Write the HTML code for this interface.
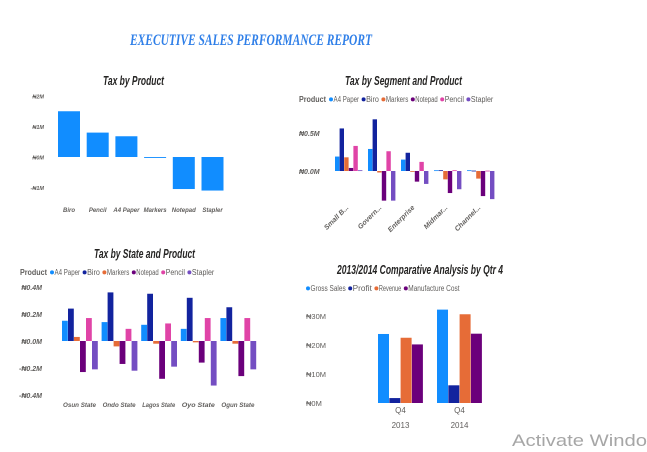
<!DOCTYPE html>
<html><head><meta charset="utf-8"><style>
body{margin:0;background:#fff;}
svg{display:block;font-family:"Liberation Sans",sans-serif;}
.t{font-weight:bold;font-style:italic;font-size:13px;fill:#252423;}
.tk{fill:#605E5C;font-weight:bold;font-style:italic;}
.lg{font-size:8px;fill:#605E5C;}
</style></head><body>
<svg id="s" width="647" height="452">
<text x="130" y="45" textLength="242" lengthAdjust="spacingAndGlyphs" font-family="Liberation Serif" font-weight="bold" font-style="italic" font-size="16" fill="#2F7FE8">EXECUTIVE SALES PERFORMANCE REPORT</text>
<text x="512" y="446" textLength="135" lengthAdjust="spacingAndGlyphs" font-size="17" fill="#A6A6A6">Activate Windo</text>
<g id="c1"><text class="t" x="103" y="85" textLength="61" lengthAdjust="spacingAndGlyphs">Tax by Product</text></g>
<g id="c2"><text class="t" x="345" y="85" textLength="117" lengthAdjust="spacingAndGlyphs">Tax by Segment and Product</text></g>
<g id="c3"><text class="t" x="94" y="258" textLength="101" lengthAdjust="spacingAndGlyphs">Tax by State and Product</text></g>
<g id="c4"><text class="t" x="337" y="274" textLength="166" lengthAdjust="spacingAndGlyphs">2013/2014 Comparative Analysis by Qtr 4</text></g>
</svg>
<script>
const NS="http://www.w3.org/2000/svg";
const productCats=["Biro","Pencil","A4 Paper","Markers","Notepad","Stapler"];
const productTax=[1.5,0.8,0.68,-0.03,-1.05,-1.1];
const p1Ticks=[2,1,0,-1];
const p1TickLabels=["₦2M","₦1M","₦0M","-₦1M"];
const legendProducts=["A4 Paper","Biro","Markers","Notepad","Pencil","Stapler"];
const segments=["Small B...","Govern...","Enterprise","Midmar...","Channel..."];
const segA4=[0.19,0.29,0.15,0.01,0.01];
const segBiro=[0.56,0.68,0.24,0.01,0.005];
const segMarkers=[0.18,-0.02,0.0,-0.11,-0.1];
const segNotepad=[0.04,-0.39,-0.14,-0.29,-0.33];
const segPencil=[0.33,0.26,0.12,0.01,0.005];
const segStapler=[0.01,-0.39,-0.17,-0.24,-0.37];
const segTicks=[0.5,0];
const segTickLabels=["₦0.5M","₦0.0M"];
const states=["Osun State","Ondo State","Lagos State","Oyo State","Ogun State"];
const stA4=[0.15,0.14,0.12,0.09,0.17];
const stBiro=[0.24,0.36,0.35,0.32,0.25];
const stMarkers=[0.03,-0.04,-0.02,-0.01,-0.02];
const stNotepad=[-0.23,-0.17,-0.28,-0.16,-0.26];
const stPencil=[0.17,0.09,0.13,0.17,0.17];
const stStapler=[-0.21,-0.22,-0.19,-0.33,-0.21];
const stTicks=[0.4,0.2,0,-0.2,-0.4];
const stTickLabels=["₦0.4M","₦0.2M","₦0.0M","-₦0.2M","-₦0.4M"];
const years=["2013","2014"];
const cmpSeries=["Gross Sales","Profit","Revenue","Manufacture Cost"];
const grossSales=[23.8,32.2];
const profit=[1.7,6.1];
const revenue=[22.5,30.6];
const mfgCost=[20.2,23.9];
const cmpTicks=[30,20,10,0];
const cmpTickLabels=["₦30M","₦20M","₦10M","₦0M"];
const PC=["#118DFF","#12239E","#E66C37","#6B007B","#E044A7","#744EC2"];
function mk(p,tag,a,txt){const e=document.createElementNS(NS,tag);for(const k in a)e.setAttribute(k,a[k]);if(txt!==undefined)e.textContent=txt;p.appendChild(e);return e;}
function bar(p,x,w,y0,y1,c){return mk(p,"rect",{x:x,y:Math.min(y0,y1),width:w,height:Math.max(Math.abs(y1-y0),0.8),fill:c});}
// chart 1
const c1=document.getElementById("c1");
const y1=v=>157-v*30.5;
p1Ticks.forEach((t,i)=>{const e=mk(c1,"text",{class:"tk",x:44,y:y1(t)+2.5,"text-anchor":"end",style:"font-size:5.5px"},p1TickLabels[i]);

});
productCats.forEach((c,i)=>{const x=58+i*28.7;const r=bar(c1,x,22,y1(0),y1(productTax[i]),"#118DFF");


const l=mk(c1,"text",{class:"tk",x:x+11,y:212,"text-anchor":"middle",style:"font-size:6px"},c);

});
function legend(p,x,y,names,colors,title){let cx=x;if(title){const t=mk(p,"text",{x:cx,y:y,"font-size":"8","font-weight":"bold",fill:"#605E5C",textLength:27,lengthAdjust:"spacingAndGlyphs"},title);cx+=30;}
names.forEach((n,i)=>{const g=mk(p,"g",{});


mk(g,"circle",{cx:cx+2,cy:y-2.6,r:2,fill:colors[i]});mk(g,"text",{class:"lg",x:cx+4.5,y:y,textLength:n.length*3.2,lengthAdjust:"spacingAndGlyphs"},n);cx+=n.length*3.2+7;});}
// chart 2
const c2=document.getElementById("c2");
legend(c2,299,102,legendProducts,PC,"Product");
const y2=v=>171-v*76;
segTicks.forEach((t,i)=>{const e=mk(c2,"text",{class:"tk",x:299,y:y2(t)+3,style:"font-size:7px"},segTickLabels[i]);

});
const segData=[segA4,segBiro,segMarkers,segNotepad,segPencil,segStapler];
segments.forEach((s,i)=>{const gx=335+i*33;segData.forEach((arr,j)=>{const r=bar(c2,gx+j*4.6,4.4,y2(0),y2(arr[i]),PC[j]);

});
const l=mk(c2,"text",{class:"tk",style:"font-size:7px",transform:`translate(${gx+14},${208}) rotate(-45)`,"text-anchor":"end"},s);

});
// chart 3
const c3=document.getElementById("c3");
legend(c3,20,275,legendProducts,PC,"Product");
const y3=v=>341-v*135;
stTicks.forEach((t,i)=>{const e=mk(c3,"text",{class:"tk",x:42,y:y3(t)+3,style:"font-size:7px","text-anchor":"end"},stTickLabels[i]);

});
const stData=[stA4,stBiro,stMarkers,stNotepad,stPencil,stStapler];
states.forEach((s,i)=>{const gx=62+i*39.6;stData.forEach((arr,j)=>{const r=bar(c3,gx+j*6,5.8,y3(0),y3(arr[i]),PC[j]);

});
const l=mk(c3,"text",{class:"tk",style:"font-size:6.8px",x:gx+1,y:407,textLength:33,lengthAdjust:"spacingAndGlyphs"},s);

});
// chart 4
const c4=document.getElementById("c4");
const CC=["#118DFF","#12239E","#E66C37","#6B007B"];
legend(c4,306,291,cmpSeries,CC,null);
const y4=v=>403-v*2.9;
cmpTicks.forEach((t,i)=>{const e=mk(c4,"text",{x:306,y:y4(t)+3,"font-size":"7.5",fill:"#605E5C"},cmpTickLabels[i]);

});
const cmpData=[grossSales,profit,revenue,mfgCost];
years.forEach((yr,i)=>{const gx=378+i*59;cmpData.forEach((arr,j)=>{const r=bar(c4,gx+j*11.3,11,y4(0),y4(arr[i]),CC[j]);

});
const q=mk(c4,"text",{x:gx+22.5,y:413,"font-size":"8",fill:"#605E5C","text-anchor":"middle"},"Q4");


const l=mk(c4,"text",{x:gx+22.5,y:428,"font-size":"8",fill:"#605E5C","text-anchor":"middle"},yr);

});
</script>
</body></html>
